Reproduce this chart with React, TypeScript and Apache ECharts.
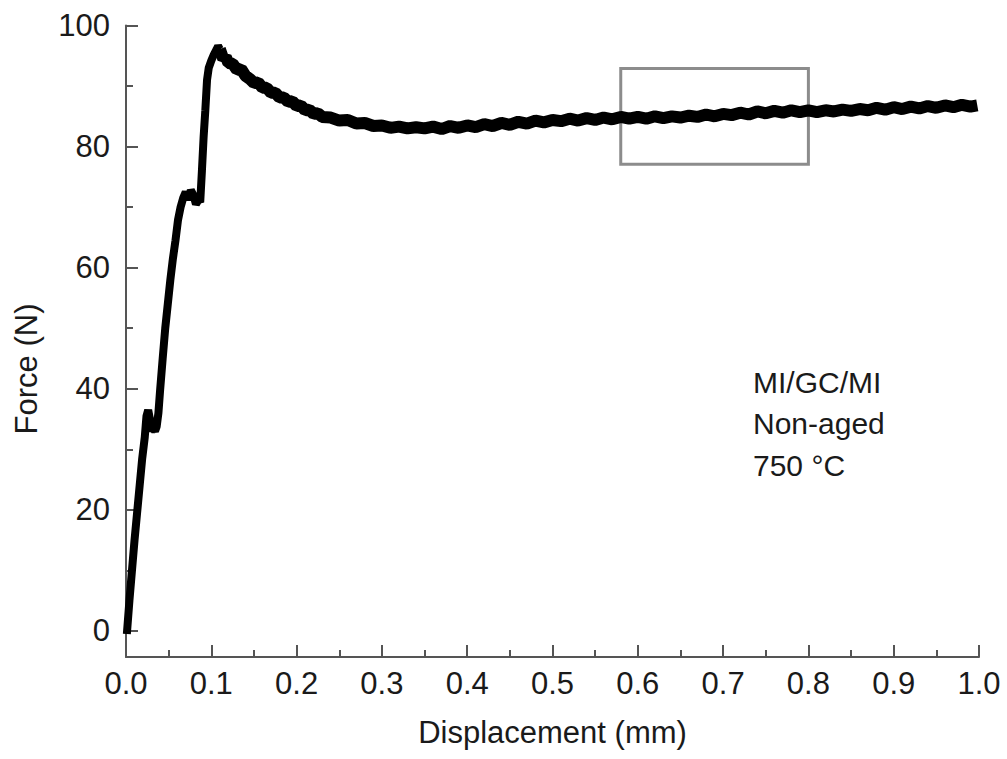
import React, { useEffect, useRef } from "react";
import * as echarts from "echarts";

// Loading (rise) segment
const riseDisp = [0.001, 0.004, 0.007, 0.010, 0.013, 0.016, 0.019, 0.022, 0.024, 0.026, 0.028, 0.030, 0.032, 0.034, 0.036, 0.038, 0.040, 0.043, 0.046, 0.049, 0.052, 0.055, 0.058, 0.061, 0.064, 0.067, 0.070, 0.073, 0.076, 0.079, 0.082, 0.085, 0.087, 0.089, 0.091, 0.093, 0.095, 0.097, 0.100, 0.103, 0.106, 0.108, 0.110];
const riseForce = [-0.5, 5, 10, 15, 19.5, 24, 28.5, 32, 35.5, 36.5, 35, 33, 33.5, 33, 33.8, 36, 39.8, 45, 50, 54, 58, 61.5, 64.5, 67.9, 70, 71.5, 72.5, 71.2, 72.8, 72, 70.5, 71.2, 70.8, 76, 81.6, 86, 91, 93, 94.2, 95.2, 96, 96.6, 96.1];

// Post-peak (flow) segment
const flowDisp = [0.110, 0.112, 0.114, 0.117, 0.120, 0.125, 0.130, 0.135, 0.140, 0.145, 0.150, 0.155, 0.160, 0.165, 0.170, 0.175, 0.180, 0.185, 0.190, 0.195, 0.200, 0.205, 0.210, 0.215, 0.220, 0.225, 0.230, 0.240, 0.250, 0.260, 0.270, 0.280, 0.290, 0.300, 0.310, 0.320, 0.330, 0.340, 0.350, 0.360, 0.370, 0.380, 0.390, 0.400, 0.410, 0.420, 0.430, 0.440, 0.450, 0.460, 0.470, 0.480, 0.490, 0.500, 0.510, 0.520, 0.530, 0.540, 0.550, 0.560, 0.570, 0.580, 0.590, 0.600, 0.610, 0.620, 0.630, 0.640, 0.650, 0.660, 0.670, 0.680, 0.690, 0.700, 0.710, 0.720, 0.730, 0.740, 0.750, 0.760, 0.770, 0.780, 0.790, 0.800, 0.810, 0.820, 0.830, 0.840, 0.850, 0.860, 0.870, 0.880, 0.890, 0.900, 0.910, 0.920, 0.930, 0.940, 0.950, 0.960, 0.970, 0.980, 0.990, 0.998];
const flowForce = [96.1, 95.3, 94.5, 94.8, 93.8, 93.7, 92.7, 92.8, 91.7, 91.2, 90.5, 90.6, 89.7, 89.7, 88.9, 88.9, 88.1, 88.1, 87.4, 87.5, 86.7, 86.8, 86.0, 86.1, 85.4, 85.5, 84.9, 84.8, 84.3, 84.4, 83.8, 83.9, 83.4, 83.5, 83.1, 83.3, 83.0, 83.2, 83.0, 83.3, 82.9, 83.4, 83.1, 83.5, 83.2, 83.7, 83.4, 83.9, 83.6, 84.1, 83.8, 84.3, 84.0, 84.4, 84.2, 84.6, 84.3, 84.7, 84.4, 84.8, 84.5, 84.9, 84.6, 84.9, 84.6, 85.0, 84.7, 85.0, 84.8, 85.1, 84.9, 85.3, 85.0, 85.4, 85.2, 85.6, 85.3, 85.8, 85.5, 85.9, 85.6, 86.0, 85.7, 86.0, 85.7, 86.0, 85.8, 86.1, 85.9, 86.2, 86.0, 86.4, 86.1, 86.5, 86.2, 86.6, 86.3, 86.7, 86.4, 86.8, 86.5, 86.9, 86.6, 86.8];

// Highlighted region (box)
const boxDisp = [0.58, 0.80];
const boxForce = [77.1, 92.9];

const xTicks = [0, 0.1, 0.2, 0.3, 0.4, 0.5, 0.6, 0.7, 0.8, 0.9, 1.0];
const yMajorTicks = [0, 20, 40, 60, 80, 100];
const yMinorTicks = [10, 30, 50, 70, 90];

const annotationLines = ["MI/GC/MI", "Non-aged", "750 °C"];

const FONT = "Liberation Sans, Arial, Helvetica, sans-serif";
const AXIS_COLOR = "#555555";
const TEXT_COLOR = "#1a1a1a";

export default function App() {
  const ref = useRef<HTMLDivElement>(null);

  useEffect(() => {
    document.body.style.margin = "0";
    if (!ref.current) return;
    const chart = echarts.init(ref.current, undefined, { renderer: "svg" });

    const zip = (xs: number[], ys: number[]) => xs.map((x, i) => [x, ys[i]]);

    const option: any = {
      animation: false,
      backgroundColor: "#ffffff",
      grid: { left: 126, right: 28, top: 25.5, bottom: 102, containLabel: false },
      xAxis: {
        type: "value",
        min: 0,
        max: 1,
        interval: 0.1,
        axisLine: { show: true, onZero: false, lineStyle: { color: AXIS_COLOR, width: 2 } },
        axisTick: { show: true, inside: true, length: 12, lineStyle: { color: AXIS_COLOR, width: 2 } },
        minorTick: { show: true, splitNumber: 2, length: 7, lineStyle: { color: AXIS_COLOR, width: 2 } },
        splitLine: { show: false },
        minorSplitLine: { show: false },
        axisLabel: {
          margin: 11,
          fontSize: 31,
          fontFamily: FONT,
          color: TEXT_COLOR,
          formatter: (v: number) => v.toFixed(1),
          customValues: xTicks,
        },
        name: "Displacement (mm)",
        nameLocation: "middle",
        nameGap: 60,
        nameTextStyle: { fontSize: 31, fontFamily: FONT, color: TEXT_COLOR },
      },
      yAxis: [
        {
          type: "value",
          min: -4.3,
          max: 100,
          axisLine: { show: true, onZero: false, lineStyle: { color: AXIS_COLOR, width: 2 } },
          axisTick: { show: true, inside: true, length: 12, customValues: yMajorTicks, lineStyle: { color: AXIS_COLOR, width: 2 } },
          splitLine: { show: false },
          axisLabel: {
            margin: 16,
            fontSize: 31,
            fontFamily: FONT,
            color: TEXT_COLOR,
            customValues: yMajorTicks,
          },
        },
        {
          type: "value",
          min: -4.3,
          max: 100,
          position: "left",
          axisLine: { show: false },
          axisTick: { show: true, inside: true, length: 7, customValues: yMinorTicks, lineStyle: { color: AXIS_COLOR, width: 2 } },
          splitLine: { show: false },
          axisLabel: { show: false },
        },
      ],
      series: [
        {
          type: "line",
          data: zip(riseDisp, riseForce),
          showSymbol: false,
          lineStyle: { color: "#000000", width: 8 },
          z: 3,
        },
        {
          type: "line",
          data: zip(flowDisp, flowForce),
          showSymbol: false,
          lineStyle: { color: "#000000", width: 12 },
          z: 3,
          markArea: {
            silent: true,
            itemStyle: { color: "rgba(0,0,0,0)", borderColor: "#8c8c8c", borderWidth: 3 },
            label: { show: false },
            data: [[{ coord: [boxDisp[0], boxForce[1]] }, { coord: [boxDisp[1], boxForce[0]] }]],
          },
        },
      ],
      graphic: [
        {
          type: "text",
          x: 26,
          y: 369,
          rotation: Math.PI / 2,
          style: {
            text: "Force (N)",
            fontSize: 31,
            fontFamily: FONT,
            fill: TEXT_COLOR,
            align: "center",
            verticalAlign: "middle",
          },
        },
        ...annotationLines.map((t, i) => ({
          type: "text",
          x: 753,
          y: 382 + i * 41.5,
          style: {
            text: t,
            fontSize: 30,
            fontFamily: FONT,
            fill: TEXT_COLOR,
            align: "left",
            verticalAlign: "middle",
          },
        })),
      ],
    };

    chart.setOption(option);
    return () => chart.dispose();
  }, []);

  return <div ref={ref} style={{ width: 1007, height: 759 }} />;
}
